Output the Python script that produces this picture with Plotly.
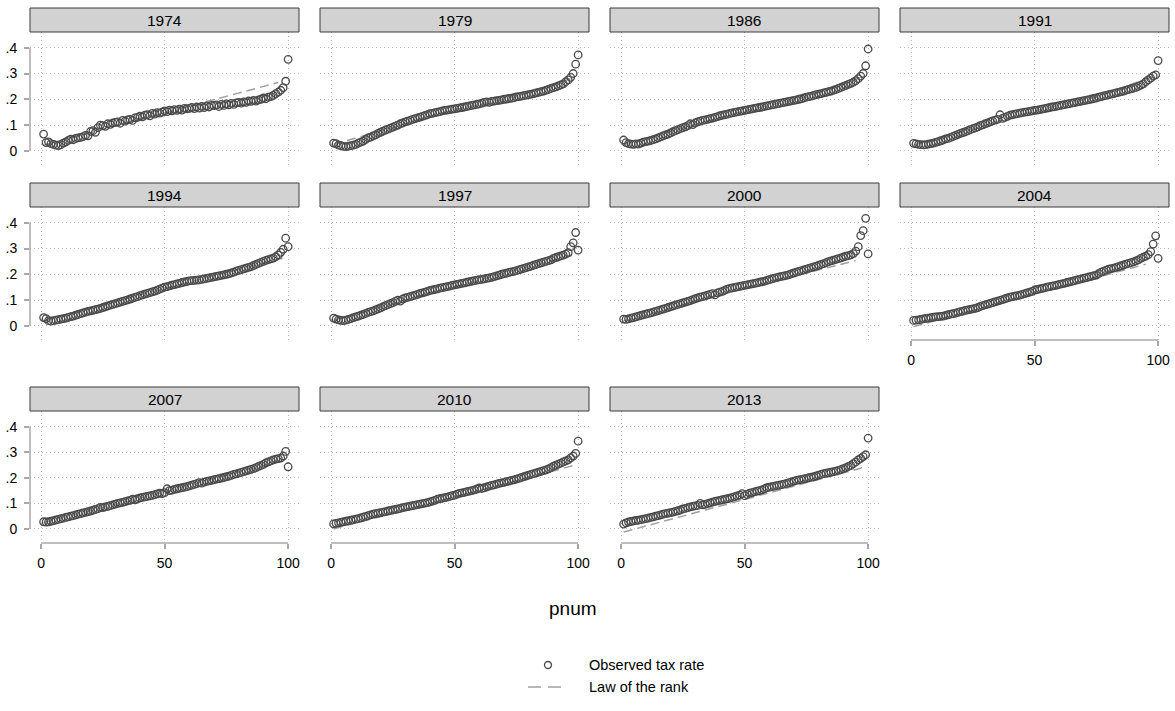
import plotly.graph_objects as go

W, H = 1175, 711

years = ["1974", "1979", "1986", "1991", "1994", "1997", "2000", "2004", "2007", "2010", "2013"]
pnum = list(range(1, 101))

obs_1974 = [.065, .032, .035, .028, .025, .022, .020, .024, .030, .035,
            .040, .045, .043, .048, .050, .052, .055, .060, .058, .075,
            .078, .072, .090, .100, .098, .095, .105, .103, .108, .110,
            .112, .107, .118, .115, .120, .122, .118, .128, .130, .135,
            .132, .138, .140, .136, .145, .142, .148, .146, .150, .155,
            .152, .158, .155, .160, .157, .162, .158, .165, .163, .165,
            .168, .164, .170, .166, .172, .168, .174, .170, .176, .175,
            .178, .172, .180, .176, .182, .178, .184, .180, .186, .188,
            .185, .190, .188, .194, .192, .196, .193, .198, .200, .205,
            .202, .208, .210, .215, .222, .228, .235, .245, .270, .355]
obs_1979 = [.030, .028, .022, .020, .017, .016, .018, .020, .022, .025,
            .030, .034, .038, .044, .050, .053, .058, .062, .068, .072,
            .076, .080, .084, .088, .092, .096, .100, .105, .108, .112,
            .115, .118, .122, .125, .128, .131, .134, .137, .140, .144,
            .145, .148, .150, .152, .155, .157, .158, .160, .162, .163,
            .165, .167, .168, .170, .172, .174, .176, .178, .180, .182,
            .185, .188, .190, .188, .192, .193, .195, .196, .198, .200,
            .201, .203, .204, .206, .209, .210, .212, .214, .216, .218,
            .220, .222, .225, .227, .230, .232, .235, .238, .242, .245,
            .248, .252, .256, .260, .268, .275, .285, .300, .336, .372]
obs_1986 = [.042, .032, .028, .026, .025, .027, .026, .030, .034, .036,
            .038, .040, .043, .046, .050, .054, .058, .062, .065, .070,
            .074, .078, .082, .086, .090, .093, .098, .105, .102, .108,
            .112, .115, .118, .120, .122, .125, .127, .130, .133, .136,
            .138, .140, .142, .145, .147, .149, .151, .153, .155, .157,
            .159, .161, .163, .165, .167, .168, .170, .172, .174, .176,
            .178, .180, .182, .184, .186, .188, .190, .192, .194, .196,
            .198, .200, .202, .205, .208, .210, .212, .215, .218, .220,
            .222, .225, .227, .230, .232, .235, .238, .242, .246, .250,
            .254, .258, .262, .266, .272, .280, .290, .300, .330, .395]
obs_1991 = [.029, .027, .025, .024, .023, .024, .026, .028, .030, .033,
            .036, .039, .042, .046, .048, .052, .056, .060, .064, .068,
            .071, .074, .078, .082, .086, .089, .093, .098, .101, .105,
            .108, .112, .116, .119, .122, .140, .126, .130, .134, .138,
            .140, .142, .144, .146, .148, .150, .151, .153, .155, .157,
            .158, .160, .162, .164, .166, .168, .170, .171, .173, .175,
            .177, .179, .181, .183, .185, .187, .189, .191, .193, .195,
            .197, .199, .201, .203, .205, .208, .210, .213, .215, .218,
            .220, .222, .225, .227, .230, .232, .235, .238, .240, .243,
            .246, .250, .255, .260, .268, .275, .282, .290, .295, .350]
obs_1994 = [.032, .028, .020, .018, .020, .022, .024, .026, .028, .030,
            .033, .036, .038, .041, .044, .047, .050, .053, .056, .058,
            .060, .063, .065, .068, .071, .074, .077, .080, .083, .086,
            .089, .092, .095, .098, .101, .104, .107, .110, .113, .117,
            .120, .123, .126, .129, .132, .135, .138, .142, .146, .150,
            .152, .155, .158, .160, .163, .165, .168, .170, .172, .174,
            .175, .176, .177, .178, .180, .182, .184, .186, .188, .190,
            .192, .194, .196, .198, .200, .202, .205, .208, .212, .215,
            .218, .221, .224, .227, .230, .234, .238, .242, .246, .250,
            .254, .257, .260, .263, .268, .275, .285, .297, .340, .307]
obs_1997 = [.030, .026, .023, .021, .020, .022, .025, .028, .032, .035,
            .038, .041, .044, .048, .052, .055, .058, .062, .066, .070,
            .074, .078, .082, .086, .090, .095, .100, .096, .104, .108,
            .110, .113, .116, .119, .122, .126, .128, .131, .134, .137,
            .139, .141, .143, .146, .148, .150, .152, .154, .157, .159,
            .161, .163, .165, .167, .169, .171, .173, .175, .177, .179,
            .180, .182, .184, .186, .188, .191, .194, .197, .200, .202,
            .204, .207, .209, .211, .214, .217, .220, .223, .226, .229,
            .232, .235, .238, .241, .244, .247, .250, .253, .256, .262,
            .265, .268, .271, .274, .278, .284, .307, .322, .362, .294]
obs_2000 = [.026, .025, .027, .030, .032, .035, .038, .040, .043, .045,
            .048, .050, .053, .056, .059, .062, .065, .068, .071, .074,
            .077, .080, .083, .086, .089, .092, .095, .098, .102, .105,
            .108, .111, .113, .116, .119, .122, .125, .120, .128, .131,
            .134, .138, .142, .145, .147, .149, .151, .153, .155, .157,
            .159, .161, .163, .165, .167, .169, .171, .173, .176, .179,
            .182, .185, .187, .190, .192, .194, .196, .199, .202, .205,
            .208, .211, .214, .217, .220, .223, .226, .229, .232, .235,
            .238, .241, .245, .249, .252, .255, .258, .261, .264, .267,
            .270, .272, .275, .280, .290, .307, .350, .369, .417, .279]
obs_2004 = [.021, .022, .023, .025, .027, .029, .030, .032, .034, .035,
            .036, .037, .038, .040, .043, .045, .047, .049, .052, .055,
            .057, .060, .062, .064, .066, .068, .071, .075, .078, .081,
            .084, .087, .090, .093, .096, .099, .102, .105, .108, .111,
            .113, .115, .117, .119, .122, .125, .128, .131, .134, .139,
            .141, .143, .145, .147, .150, .152, .154, .156, .158, .161,
            .163, .165, .168, .170, .172, .175, .177, .180, .182, .185,
            .187, .190, .192, .195, .197, .203, .208, .212, .216, .220,
            .222, .224, .227, .230, .233, .236, .239, .242, .245, .248,
            .252, .256, .262, .266, .270, .276, .288, .317, .349, .262]
obs_2007 = [.028, .027, .028, .030, .032, .035, .037, .040, .042, .045,
            .047, .050, .052, .055, .058, .060, .063, .065, .068, .070,
            .073, .076, .079, .084, .083, .086, .088, .091, .094, .097,
            .100, .102, .104, .107, .110, .112, .116, .114, .118, .121,
            .123, .125, .127, .129, .131, .134, .137, .140, .138, .142,
            .157, .150, .152, .155, .157, .159, .161, .163, .165, .168,
            .171, .174, .177, .181, .179, .183, .186, .188, .190, .193,
            .195, .197, .199, .201, .204, .206, .209, .213, .215, .218,
            .221, .224, .227, .230, .233, .236, .240, .244, .248, .252,
            .258, .262, .266, .270, .273, .275, .277, .285, .303, .243]
obs_2010 = [.020, .022, .024, .026, .028, .030, .032, .034, .036, .038,
            .040, .043, .046, .049, .052, .055, .058, .060, .062, .064,
            .066, .068, .070, .072, .074, .076, .078, .080, .083, .085,
            .087, .089, .091, .093, .095, .097, .099, .101, .103, .106,
            .109, .112, .116, .118, .120, .122, .124, .127, .130, .132,
            .136, .139, .141, .143, .146, .148, .150, .153, .156, .160,
            .158, .161, .164, .167, .170, .172, .175, .178, .180, .182,
            .185, .187, .190, .192, .195, .198, .201, .204, .207, .210,
            .213, .216, .219, .222, .225, .228, .231, .235, .240, .245,
            .249, .253, .257, .262, .266, .270, .278, .285, .295, .343]
obs_2013 = [.019, .024, .027, .029, .031, .033, .034, .036, .038, .040,
            .042, .045, .047, .050, .052, .055, .058, .060, .062, .064,
            .066, .069, .071, .074, .078, .080, .083, .086, .088, .090,
            .092, .100, .094, .096, .099, .102, .105, .108, .110, .112,
            .114, .116, .118, .120, .123, .126, .129, .132, .138, .130,
            .135, .140, .142, .145, .148, .150, .153, .157, .161, .163,
            .165, .167, .169, .171, .173, .175, .178, .181, .184, .187,
            .190, .192, .194, .196, .198, .200, .202, .204, .207, .210,
            .213, .216, .218, .220, .222, .224, .226, .229, .232, .236,
            .240, .244, .248, .255, .262, .270, .276, .283, .290, .355]

law_x_1974 = [1, 50, 96];  law_y_1974 = [0.022, 0.148, 0.265]
law_x_1979 = [1, 25, 50, 75, 97];  law_y_1979 = [0.025, 0.090, 0.160, 0.210, 0.280]
law_x_1986 = [1, 25, 50, 75, 97];  law_y_1986 = [0.025, 0.088, 0.155, 0.208, 0.285]
law_x_1991 = [1, 25, 50, 75, 98];  law_y_1991 = [0.022, 0.085, 0.155, 0.208, 0.290]
law_x_1994 = [1, 50, 99];  law_y_1994 = [0.020, 0.145, 0.265]
law_x_1997 = [1, 50, 98];  law_y_1997 = [0.022, 0.152, 0.275]
law_x_2000 = [1, 50, 95];  law_y_2000 = [0.020, 0.145, 0.253]
law_x_2004 = [1, 50, 95];  law_y_2004 = [-0.003, 0.124, 0.239]
law_x_2007 = [1, 50, 99];  law_y_2007 = [0.025, 0.145, 0.270]
law_x_2010 = [1, 50, 99];  law_y_2010 = [0.000, 0.125, 0.250]
law_x_2013 = [1, 50, 98];  law_y_2013 = [-0.012, 0.115, 0.240]

y_tick_vals = [0, 0.1, 0.2, 0.3, 0.4]
y_tick_text = ["0", ".1", ".2", ".3", ".4"]
x_tick_vals = [0, 50, 100]
x_tick_text = ["0", "50", "100"]

obs = [obs_1974, obs_1979, obs_1986, obs_1991, obs_1994, obs_1997,
       obs_2000, obs_2004, obs_2007, obs_2010, obs_2013]
law_x = [law_x_1974, law_x_1979, law_x_1986, law_x_1991, law_x_1994, law_x_1997,
         law_x_2000, law_x_2004, law_x_2007, law_x_2010, law_x_2013]
law_y = [law_y_1974, law_y_1979, law_y_1986, law_y_1991, law_y_1994, law_y_1997,
         law_y_2000, law_y_2004, law_y_2007, law_y_2010, law_y_2013]

FONT = "Liberation Sans, Arial, Helvetica, sans-serif"
col_left = [30, 320, 610, 900]
panel_w = 269
head_top = [8, 183, 387]
head_h = 24
plot_bot = [165, 340, 543]
x_range = [-4.5, 104.4]
y_range = [-0.055, 0.461]
bottom_panels = {7, 8, 9, 10}

AX_COL = "#a8a8a8"
GRID_COL = "#b8b8b8"
MARK_COL = "#4a4a4a"
LINE_COL = "#a0a0a0"


def px(x):
    return x / W


def py(y):
    return 1 - y / H


fig = go.Figure()
shapes = []
annotations = []
layout = {}

for i, yr in enumerate(years):
    r, c = divmod(i, 4)
    sfx = "" if i == 0 else str(i + 1)
    xa, ya = "x" + sfx, "y" + sfx
    L = col_left[c]
    ht = head_top[r]
    top = ht + head_h
    bot = plot_bot[r]

    fig.add_trace(go.Scatter(
        x=law_x[i], y=law_y[i], xaxis=xa, yaxis=ya, mode="lines",
        line=dict(color=LINE_COL, width=1.5, dash="9px,5px"),
        name="Law of the rank", showlegend=False, hoverinfo="skip"))
    fig.add_trace(go.Scatter(
        x=pnum, y=obs[i], xaxis=xa, yaxis=ya, mode="markers",
        marker=dict(symbol="circle-open", size=7.5, color=MARK_COL,
                    line=dict(width=1.3, color=MARK_COL)),
        name="Observed tax rate", showlegend=False))

    is_bottom = i in bottom_panels
    layout["xaxis" + sfx] = dict(
        domain=[px(L), px(L + panel_w)], range=x_range, anchor=ya,
        tickvals=x_tick_vals, ticktext=x_tick_text,
        showgrid=True, gridcolor=GRID_COL, gridwidth=1, griddash="1px,3px",
        zeroline=False, showline=False,
        ticks="outside" if is_bottom else "", ticklen=5, tickwidth=1.5,
        tickcolor=AX_COL, showticklabels=is_bottom,
        tickfont=dict(family=FONT, size=14, color="#000000"),
        ticklabelstandoff=2, fixedrange=True)
    layout["yaxis" + sfx] = dict(
        domain=[py(bot), py(top)], range=y_range, anchor=xa,
        tickvals=y_tick_vals, ticktext=y_tick_text,
        showgrid=True, gridcolor=GRID_COL, gridwidth=1, griddash="1px,3px",
        zeroline=False, showline=False,
        ticks="outside" if c == 0 else "", ticklen=5, tickwidth=1.5,
        tickcolor=AX_COL, showticklabels=(c == 0),
        tickfont=dict(family=FONT, size=14, color="#000000"),
        ticklabelstandoff=4, fixedrange=True)

    # header strip
    shapes.append(dict(type="rect", xref="paper", yref="paper",
                       x0=px(L), x1=px(L + panel_w), y0=py(ht + head_h), y1=py(ht),
                       fillcolor="#d2d2d2", line=dict(color="#3a3a3a", width=1),
                       layer="above"))
    annotations.append(dict(text=yr, xref="paper", yref="paper",
                            x=px(L + panel_w / 2), y=py(ht + head_h / 2),
                            xanchor="center", yanchor="middle", showarrow=False,
                            font=dict(family=FONT, size=15.5, color="#000000")))
    # axis lines
    if c == 0:
        shapes.append(dict(type="line", xref=xa + " domain", yref=ya,
                           x0=0, x1=0, y0=y_tick_vals[0], y1=y_tick_vals[-1],
                           line=dict(color=AX_COL, width=1.5)))
    if is_bottom:
        shapes.append(dict(type="line", xref=xa, yref=ya + " domain",
                           x0=x_tick_vals[0], x1=x_tick_vals[-1], y0=0, y1=0,
                           line=dict(color=AX_COL, width=1.5)))

# x axis title
annotations.append(dict(text="pnum", xref="paper", yref="paper",
                        x=px(573), y=py(608), xanchor="center", yanchor="middle",
                        showarrow=False, font=dict(family=FONT, size=19, color="#000000")))

# legend (drawn manually to match the original key layout)
leg_items = ["Observed tax rate", "Law of the rank"]
leg_y = [665, 687]
r_c = 3.5
shapes.append(dict(type="circle", xref="paper", yref="paper",
                   x0=px(548 - r_c), x1=px(548 + r_c), y0=py(leg_y[0] + r_c), y1=py(leg_y[0] - r_c),
                   line=dict(color=MARK_COL, width=1.3), fillcolor="rgba(0,0,0,0)"))
shapes.append(dict(type="line", xref="paper", yref="paper",
                   x0=px(528), x1=px(564), y0=py(leg_y[1]), y1=py(leg_y[1]),
                   line=dict(color=LINE_COL, width=1.5, dash="13px,7px")))
for t, yy in zip(leg_items, leg_y):
    annotations.append(dict(text=t, xref="paper", yref="paper",
                            x=px(587), y=py(yy), xanchor="left", yanchor="middle",
                            showarrow=False, font=dict(family=FONT, size=14.5, color="#000000")))

fig.update_layout(
    width=W, height=H, margin=dict(l=0, r=0, t=0, b=0),
    paper_bgcolor="white", plot_bgcolor="white",
    showlegend=False, shapes=shapes, annotations=annotations,
    font=dict(family=FONT), **layout)

fig.write_html("out.html", config={"displayModeBar": False},
               post_script="document.body.style.margin='0';document.body.style.overflow='hidden';")
